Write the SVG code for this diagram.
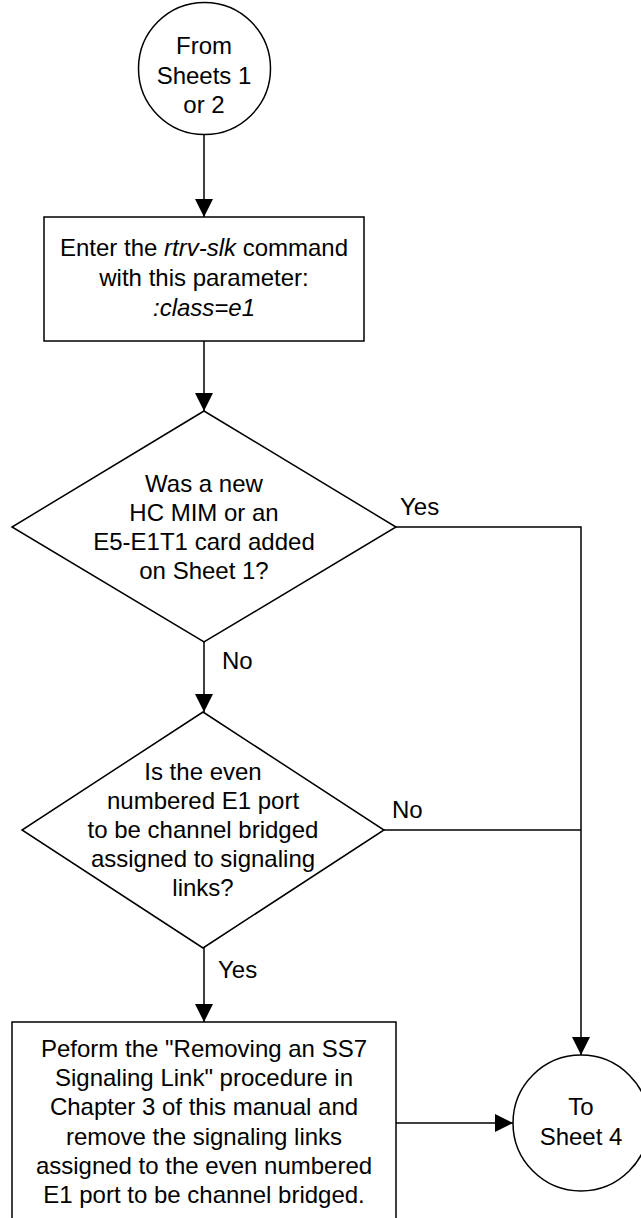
<svg xmlns="http://www.w3.org/2000/svg" width="641" height="1218" viewBox="0 0 641 1218">
<style>
.s{fill:#fff;stroke:#000;stroke-width:1.5}
.c{fill:none;stroke:#000;stroke-width:1.5}
text{font-family:"Liberation Sans",Arial,sans-serif;font-size:24px;fill:#000}
.m{text-anchor:middle}
.i{font-style:italic}
</style>
<defs>
<marker id="a" markerWidth="18" markerHeight="18" refX="18" refY="9" orient="auto" markerUnits="userSpaceOnUse">
<path d="M0,0 L18,9 L0,18 Z" fill="#000"/>
</marker>
</defs>
<g id="connectors">
<line class="c" x1="204" y1="135" x2="204" y2="217" marker-end="url(#a)"/>
<line class="c" x1="204" y1="341" x2="204" y2="411" marker-end="url(#a)"/>
<line class="c" x1="204" y1="642" x2="204" y2="712" marker-end="url(#a)"/>
<line class="c" x1="204" y1="948" x2="204" y2="1022" marker-end="url(#a)"/>
<polyline class="c" points="396,527 581,527 581,1055" marker-end="url(#a)"/>
<line class="c" x1="384" y1="830" x2="581" y2="830"/>
<line class="c" x1="396" y1="1123" x2="513" y2="1123" marker-end="url(#a)"/>
<text x="400" y="515">Yes</text>
<text x="222" y="669">No</text>
<text x="392" y="818">No</text>
<text x="218" y="978">Yes</text>
</g>
<g id="start">
<circle class="s" cx="204.5" cy="68.5" r="66"/>
<text class="m" x="204" y="54">From</text>
<text class="m" x="204" y="84">Sheets 1</text>
<text class="m" x="204" y="113">or 2</text>
</g>
<g id="box1">
<rect class="s" x="44" y="217" width="320" height="124"/>
<text class="m" x="204" y="256">Enter the <tspan class="i">rtrv-slk</tspan> command</text>
<text class="m" x="204" y="286">with this parameter:</text>
<text class="m i" x="204" y="316">:class=e1</text>
</g>
<g id="decision1">
<polygon class="s" points="204,411 396,527 204,642 12,527"/>
<text class="m" x="204" y="492">Was a new</text>
<text class="m" x="204" y="521">HC MIM or an</text>
<text class="m" x="204" y="550">E5-E1T1 card added</text>
<text class="m" x="204" y="579">on Sheet 1?</text>
</g>
<g id="decision2">
<polygon class="s" points="203,712 384,830 203,948 22,830"/>
<text class="m" x="203" y="780">Is the even</text>
<text class="m" x="203" y="809">numbered E1 port</text>
<text class="m" x="203" y="838">to be channel bridged</text>
<text class="m" x="203" y="867">assigned to signaling</text>
<text class="m" x="203" y="896">links?</text>
</g>
<g id="box2">
<rect class="s" x="12" y="1022" width="384" height="200"/>
<text class="m" x="204" y="1057">Peform the "Removing an SS7</text>
<text class="m" x="204" y="1086">Signaling Link" procedure in</text>
<text class="m" x="204" y="1115">Chapter 3 of this manual and</text>
<text class="m" x="204" y="1145">remove the signaling links</text>
<text class="m" x="204" y="1174">assigned to the even numbered</text>
<text class="m" x="204" y="1203">E1 port to be channel bridged.</text>
</g>
<g id="end">
<circle class="s" cx="581" cy="1123" r="68"/>
<text class="m" x="581" y="1115">To</text>
<text class="m" x="581" y="1145">Sheet 4</text>
</g>
</svg>
